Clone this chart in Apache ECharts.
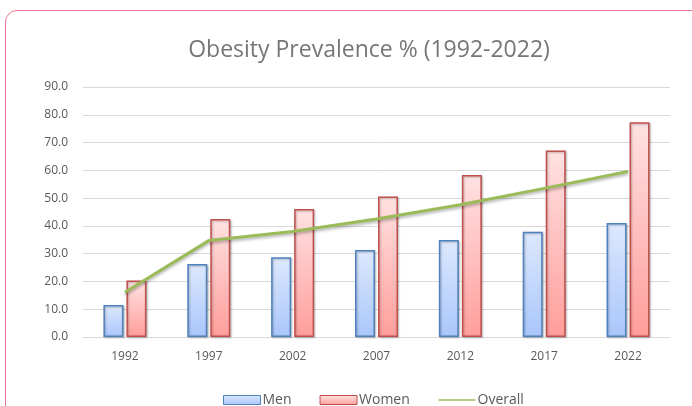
<!DOCTYPE html>
<html>
<head>
<meta charset="utf-8">
<script src="https://cdn.jsdelivr.net/npm/echarts@6/dist/echarts.min.js"></script>
<style>
  html, body { margin: 0; padding: 0; background: #fff; }
  .frame {
    position: absolute; left: 5px; top: 10px; width: 700px; height: 410px;
    border: 1.5px solid #e8788f; border-radius: 12px; box-sizing: border-box;
  }
  #chart { position: absolute; left: 0; top: 0; width: 692px; height: 406px; }
</style>
</head>
<body>
<div class="frame"></div>
<div id="chart"></div>
<script>
  // 数据
  const years = ['1992', '1997', '2002', '2007', '2012', '2017', '2022'];
  const men = [11.5, 26.3, 28.7, 31.3, 34.9, 37.9, 41.0];
  const women = [20.3, 42.5, 46.1, 50.6, 58.3, 67.1, 77.3];
  const overall = [16.1, 34.7, 38.0, 42.5, 47.6, 53.5, 59.6];

  const font = '"Open Sans", sans-serif';

  function grad(top, bottom) {
    return new echarts.graphic.LinearGradient(0, 0, 0, 1, [
      { offset: 0, color: top },
      { offset: 1, color: bottom }
    ]);
  }

  let myChart = echarts.init(document.getElementById('chart'));
  myChart.setOption({
    animation: false,
    title: {
      text: 'Obesity Prevalence % (1992-2022)',
      left: 364, top: 34, textAlign: 'center',
      textStyle: { color: '#767676', fontSize: 23, fontWeight: 'normal', fontFamily: font }
    },
    grid: { left: 83, right: 22, top: 87, bottom: 69, containLabel: false },
    legend: {
      top: 388, left: 218,
      itemWidth: 37, itemHeight: 9, itemGap: 28,
      textStyle: { color: '#595959', fontSize: 14, fontFamily: font, padding: [0, 0, 0, -3] },
      data: [
        { name: 'Men', icon: 'rect', itemStyle: { borderWidth: 1 } },
        { name: 'Women', icon: 'rect', itemStyle: { borderWidth: 1 } },
        { name: 'Overall', itemStyle: { opacity: 0 }, lineStyle: { width: 1.5, shadowBlur: 0, shadowOffsetY: 0 } }
      ]
    },
    xAxis: {
      type: 'category',
      data: years,
      axisLine: { lineStyle: { color: '#d9d9d9' } },
      axisTick: { show: false },
      axisLabel: { color: '#595959', fontSize: 12, fontFamily: font, margin: 14 }
    },
    yAxis: {
      type: 'value',
      min: 0, max: 90, interval: 10,
      axisLine: { show: false },
      axisTick: { show: false },
      splitLine: { lineStyle: { color: '#d9d9d9' } },
      axisLabel: {
        color: '#595959', fontSize: 12, fontFamily: font, margin: 15,
        formatter: v => v.toFixed(1)
      }
    },
    series: [
      {
        name: 'Men', type: 'bar', data: men,
        barWidth: 20, barGap: '15%',
        itemStyle: {
          color: grad('#dde9fd', '#a9c6fb'),
          borderColor: '#4f81bd', borderWidth: 1.5,
          shadowColor: 'rgba(0,0,0,0.25)', shadowBlur: 2, shadowOffsetX: 1, shadowOffsetY: 1
        }
      },
      {
        name: 'Women', type: 'bar', data: women,
        barWidth: 20,
        itemStyle: {
          color: grad('#ffe2e2', '#ff9e9b'),
          borderColor: '#c0504d', borderWidth: 1.5,
          shadowColor: 'rgba(0,0,0,0.25)', shadowBlur: 2, shadowOffsetX: 1, shadowOffsetY: 1
        }
      },
      {
        name: 'Overall', type: 'line', data: overall,
        symbol: 'none',
        lineStyle: {
          color: '#9bbb59', width: 3,
          shadowColor: 'rgba(0,0,0,0.3)', shadowBlur: 3, shadowOffsetY: 2
        },
        itemStyle: { color: '#9bbb59' }
      }
    ]
  });
</script>
</body>
</html>
